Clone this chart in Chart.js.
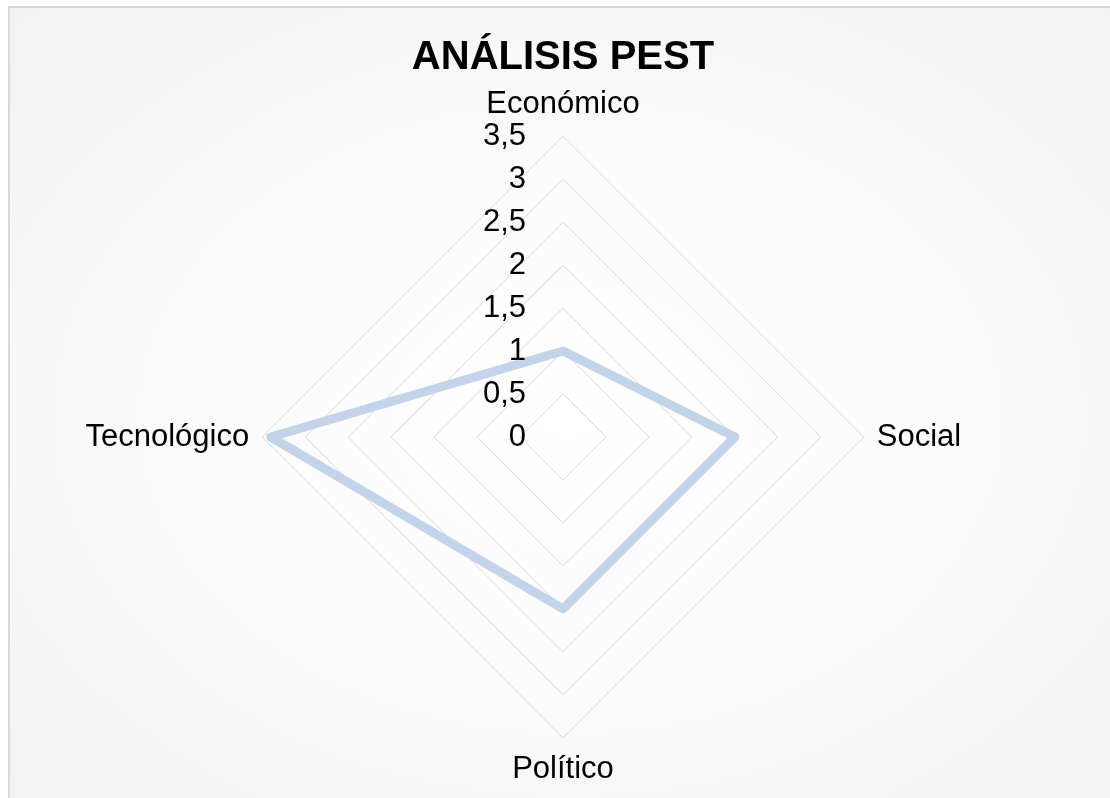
<!DOCTYPE html>
<html>
    <head>
        <meta charset="utf-8">
        <title>Análisis PEST</title>
        <script src="https://cdn.jsdelivr.net/npm/chart.js@4.4.0/dist/chart.umd.min.js"></script>
        <style>
            html, body { margin: 0; padding: 0; background: #ffffff; overflow: hidden; }
            #box {
                position: absolute; left: 8px; top: 6px; width: 1120px; height: 820px;
                border: 2px solid #d9d9d9;
                background: radial-gradient(ellipse at center, #ffffff 0%, #fbfbfb 45%, #f2f2f2 100%);
            }
            #pest-chart { position: absolute; left: 0; top: 0; }
        </style>
    </head>
    <body>
        <div id="box"></div>
        <canvas id="pest-chart" width="1110" height="798"></canvas>
        <script>
            var array_labels = ['Económico', 'Social', 'Político', 'Tecnológico'];
            var array_values = [1, 2, 2, 3.4];
            var array_ticks = [0, 0.5, 1, 1.5, 2, 2.5, 3, 3.5];

            var font_family = '"Liberation Sans", Arial, sans-serif';

            // tick labels sit to the left of the vertical axis, like Excel
            var tickLabels = {
                id: 'tickLabels',
                afterDatasetsDraw: function(chart) {
                    var scale = chart.scales.r;
                    var ctx = chart.ctx;
                    ctx.save();
                    ctx.font = '31px ' + font_family;
                    ctx.fillStyle = '#000000';
                    ctx.textAlign = 'right';
                    ctx.textBaseline = 'middle';
                    for (var i = 0; i < array_ticks.length; i++) {
                        var y = scale.yCenter - scale.getDistanceFromCenterForValue(array_ticks[i]);
                        ctx.fillText(String(array_ticks[i]).replace('.', ','), scale.xCenter - 37, y);
                    }
                    ctx.restore();
                }
            };

            new Chart(document.getElementById('pest-chart'), {
                'type': 'radar',
                'data': {
                    'labels': array_labels,
                    'datasets': [{
                        'label': 'PEST',
                        'data': array_values,
                        'fill': false,
                        'borderColor': '#c3d3ea',
                        'borderWidth': 9,
                        'borderJoinStyle': 'round',
                        'pointRadius': 0,
                        'tension': 0
                    }]
                },
                'options': {
                    responsive: false,
                    animation: false,
                    layout: { padding: { left: 16, right: 0, top: 0, bottom: 9 } },
                    plugins: {
                        legend: { display: false },
                        tooltip: { enabled: false },
                        title: {
                            display: true,
                            text: 'ANÁLISIS PEST',
                            color: '#000000',
                            font: { family: font_family, size: 40, weight: 'bold' },
                            padding: { top: 34, bottom: 5 }
                        }
                    },
                    scales: {
                        r: {
                            min: 0,
                            max: 3.5,
                            ticks: { stepSize: 0.5, display: false },
                            grid: { color: '#d9d9d9', lineWidth: 1 },
                            angleLines: { display: false },
                            pointLabels: {
                                color: '#000000',
                                padding: 13,
                                font: { family: font_family, size: 31 }
                            }
                        }
                    }
                },
                plugins: [tickLabels]
            });
        </script>
    </body>
</html>
